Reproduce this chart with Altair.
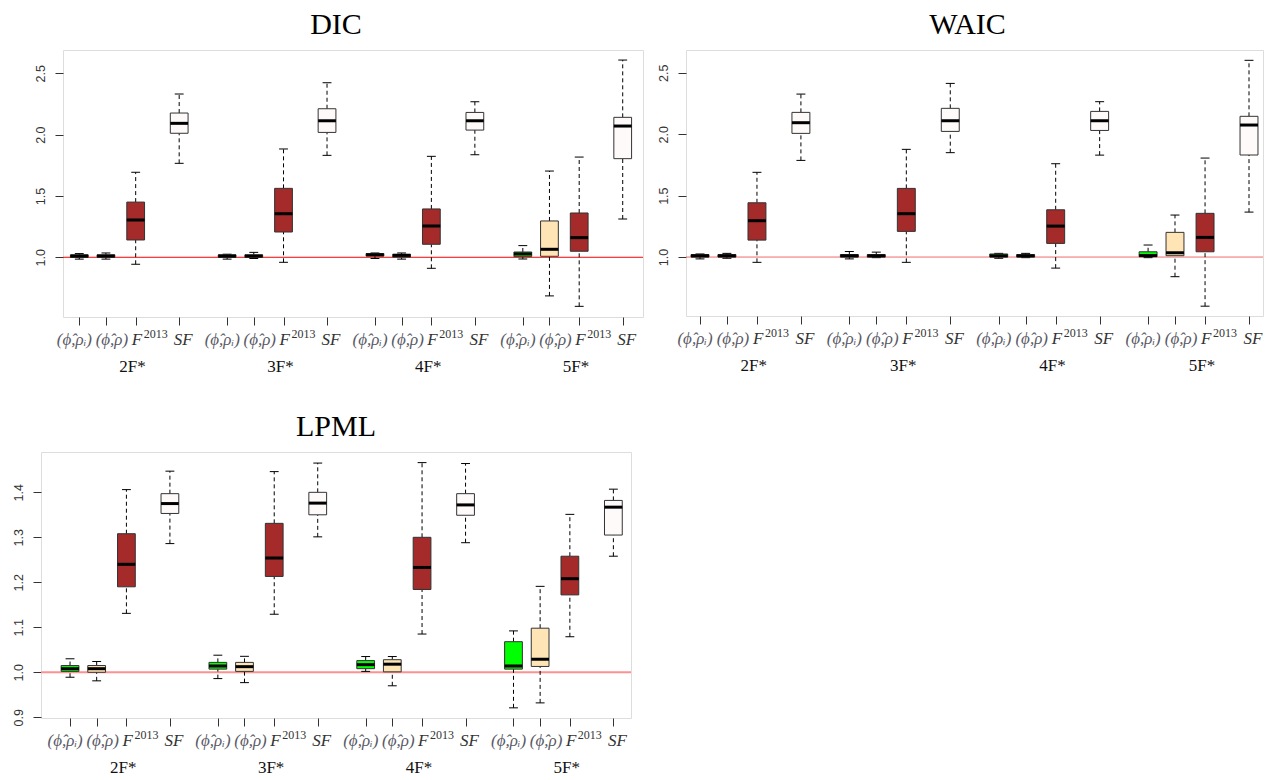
import altair as alt
import pandas as pd

groups = ["2F*", "3F*", "4F*", "5F*"]
methods = ["phi_rho_i", "phi_rho", "F2013", "SF"]
method_labels = ["(ϕ̂,ρᵢ)", "(ϕ̂,ρ)", "F", "SF"]
method_sup = ["", "", "2013", ""]
fills = ["#00FF00", "#FFE4B5", "#A52A2A", "#FFFAFA"]

# DIC box statistics (group-major order: 2F, 3F, 4F, 5F; methods as above)
dic_lower = [0.985, 0.985, 0.943, 1.766, 0.985, 0.990, 0.959, 1.831, 0.990, 0.985, 0.910, 1.836, 0.986, 0.685, 0.600, 1.312]
dic_q1 = [1.000, 1.000, 1.141, 2.011, 1.000, 1.000, 1.206, 2.018, 1.010, 1.000, 1.106, 2.037, 1.005, 1.008, 1.049, 1.804]
dic_median = [1.010, 1.010, 1.304, 2.092, 1.010, 1.010, 1.355, 2.113, 1.020, 1.015, 1.255, 2.113, 1.027, 1.065, 1.160, 2.070]
dic_q3 = [1.020, 1.020, 1.450, 2.176, 1.020, 1.020, 1.562, 2.211, 1.030, 1.025, 1.394, 2.181, 1.043, 1.296, 1.361, 2.141]
dic_upper = [1.030, 1.035, 1.693, 2.331, 1.025, 1.040, 1.883, 2.423, 1.035, 1.035, 1.823, 2.268, 1.095, 1.703, 1.817, 2.608]

# WAIC
waic_lower = [0.985, 0.990, 0.957, 1.787, 0.985, 0.995, 0.957, 1.850, 0.990, 0.995, 0.910, 1.830, 0.995, 0.840, 0.600, 1.366]
waic_q1 = [1.000, 1.000, 1.138, 2.007, 1.000, 1.000, 1.209, 2.023, 1.000, 1.000, 1.111, 2.031, 1.003, 1.011, 1.043, 1.831]
waic_median = [1.010, 1.010, 1.296, 2.094, 1.010, 1.010, 1.353, 2.110, 1.010, 1.010, 1.252, 2.110, 1.012, 1.035, 1.160, 2.075]
waic_q3 = [1.020, 1.020, 1.442, 2.178, 1.020, 1.020, 1.559, 2.211, 1.025, 1.020, 1.385, 2.186, 1.043, 1.201, 1.356, 2.146]
waic_upper = [1.025, 1.030, 1.690, 2.327, 1.045, 1.040, 1.877, 2.414, 1.030, 1.030, 1.760, 2.265, 1.098, 1.342, 1.806, 2.602]

# LPML
lpml_lower = [0.989, 0.981, 1.131, 1.286, 0.986, 0.977, 1.129, 1.301, 1.002, 0.970, 1.085, 1.288, 0.921, 0.932, 1.079, 1.258]
lpml_q1 = [1.002, 1.000, 1.190, 1.353, 1.007, 1.002, 1.213, 1.350, 1.008, 1.001, 1.184, 1.349, 1.007, 1.013, 1.172, 1.305]
lpml_median = [1.008, 1.008, 1.240, 1.375, 1.014, 1.0125, 1.254, 1.376, 1.017, 1.018, 1.233, 1.372, 1.014, 1.029, 1.208, 1.367]
lpml_q3 = [1.015, 1.015, 1.308, 1.397, 1.022, 1.022, 1.331, 1.400, 1.026, 1.028, 1.300, 1.397, 1.068, 1.098, 1.258, 1.382]
lpml_upper = [1.030, 1.024, 1.406, 1.447, 1.038, 1.0355, 1.446, 1.465, 1.035, 1.035, 1.466, 1.464, 1.092, 1.191, 1.351, 1.407]

dic_ticks = [1.0, 1.5, 2.0, 2.5]
waic_ticks = [1.0, 1.5, 2.0, 2.5]
lpml_ticks = [0.9, 1.0, 1.1, 1.2, 1.3, 1.4]

# layout constants (x units)
GROUP_STEP = 3.33
METHOD_OFFSET = [0.0, 0.6, 1.27, 2.25]
BOX_HALF = 0.2
CAP_HALF = 0.1
LABEL_SHIFT = [-0.11, 0.135, -0.09, 0.09]
SUP_SHIFT = 0.18
GROUP_LABEL_SHIFT = 1.2


def panel(title, lower, q1, med, q3, upper, ticks, ydom, xdom, width, height,
          ref_color, ref_width, title_dx):
    rows = []
    for gi in range(len(groups)):
        for mi in range(len(methods)):
            k = gi * len(methods) + mi
            pos = gi * GROUP_STEP + METHOD_OFFSET[mi]
            rows.append(dict(group=groups[gi], method=methods[mi], pos=pos,
                             bx1=pos - BOX_HALF, bx2=pos + BOX_HALF,
                             cx1=pos - CAP_HALF, cx2=pos + CAP_HALF,
                             lower=lower[k], q1=q1[k], median=med[k], q3=q3[k], upper=upper[k]))
    df = pd.DataFrame(rows)
    positions = list(df["pos"])

    xscale = alt.Scale(domain=xdom, nice=False, zero=False)
    yscale = alt.Scale(domain=ydom, nice=False, zero=False)
    xaxis = alt.Axis(values=positions, labels=False, tickSize=8, domain=False, grid=False,
                     title=None, tickColor="#333")
    yaxis = alt.Axis(values=ticks, format=".1f", labelAngle=270, labelAlign="center",
                     labelBaseline="bottom", tickSize=8, labelPadding=8, domain=False,
                     grid=False, title=None, labelFont="Liberation Sans", labelFontSize=12.5,
                     labelColor="#333", tickColor="#333")

    base = alt.Chart(df)
    whisk_lo = base.mark_rule(color="black", strokeDash=[4, 3], strokeWidth=1).encode(
        x=alt.X("pos:Q", scale=xscale, axis=xaxis),
        y=alt.Y("lower:Q", scale=yscale, axis=yaxis), y2="q1:Q")
    whisk_hi = base.mark_rule(color="black", strokeDash=[4, 3], strokeWidth=1).encode(
        x=alt.X("pos:Q", scale=xscale, axis=xaxis),
        y=alt.Y("q3:Q", scale=yscale, axis=yaxis), y2="upper:Q")
    cap_lo = base.mark_rule(color="black", strokeWidth=1).encode(
        x=alt.X("cx1:Q", scale=xscale, axis=xaxis), x2="cx2:Q",
        y=alt.Y("lower:Q", scale=yscale, axis=yaxis))
    cap_hi = base.mark_rule(color="black", strokeWidth=1).encode(
        x=alt.X("cx1:Q", scale=xscale, axis=xaxis), x2="cx2:Q",
        y=alt.Y("upper:Q", scale=yscale, axis=yaxis))
    boxes = base.mark_bar(stroke="#333", strokeWidth=1).encode(
        x=alt.X("bx1:Q", scale=xscale, axis=xaxis), x2="bx2:Q",
        y=alt.Y("q1:Q", scale=yscale, axis=yaxis), y2="q3:Q",
        color=alt.Color("method:N", scale=alt.Scale(domain=methods, range=fills), legend=None))
    medians = base.mark_rule(color="black", strokeWidth=3).encode(
        x=alt.X("bx1:Q", scale=xscale, axis=xaxis), x2="bx2:Q",
        y=alt.Y("median:Q", scale=yscale, axis=yaxis))
    ref = alt.Chart(pd.DataFrame({"v": [1.0]})).mark_rule(
        color=ref_color, strokeWidth=ref_width).encode(
        y=alt.Y("v:Q", scale=yscale, axis=yaxis))

    lab_rows = []
    for gi in range(len(groups)):
        for mi in range(len(methods)):
            pos = gi * GROUP_STEP + METHOD_OFFSET[mi]
            lab_rows.append(dict(lx=pos + LABEL_SHIFT[mi], sx=pos + SUP_SHIFT,
                                 text=method_labels[mi], sup=method_sup[mi],
                                 col="#5a5a66" if mi < 2 else "#333333",
                                 align="left" if method_sup[mi] else "center"))
    labdf = pd.DataFrame(lab_rows)
    lab_center = alt.Chart(labdf[labdf["align"] == "center"]).mark_text(
        font="Liberation Serif", fontStyle="italic", fontSize=17, baseline="alphabetic",
        align="center", dy=27.5).encode(
        x=alt.X("lx:Q", scale=xscale, axis=xaxis),
        y=alt.Y("yb:Q", scale=yscale, axis=yaxis),
        text="text:N", color=alt.Color("col:N", scale=None)).transform_calculate(yb=str(ydom[0]))
    lab_left = alt.Chart(labdf[labdf["align"] == "left"]).mark_text(
        font="Liberation Serif", fontStyle="italic", fontSize=17, baseline="alphabetic",
        align="left", dy=27.5, color="#333").encode(
        x=alt.X("lx:Q", scale=xscale, axis=xaxis),
        y=alt.Y("yb:Q", scale=yscale, axis=yaxis),
        text="text:N").transform_calculate(yb=str(ydom[0]))
    lab_sup = alt.Chart(labdf[labdf["sup"] != ""]).mark_text(
        font="Liberation Serif", fontSize=12, baseline="alphabetic",
        align="left", dy=20.5, color="#333").encode(
        x=alt.X("sx:Q", scale=xscale, axis=xaxis),
        y=alt.Y("yb:Q", scale=yscale, axis=yaxis),
        text="sup:N").transform_calculate(yb=str(ydom[0]))

    gdf = pd.DataFrame({"g": groups,
                        "gx": [gi * GROUP_STEP + GROUP_LABEL_SHIFT for gi in range(len(groups))]})
    glab = alt.Chart(gdf).mark_text(
        font="Liberation Serif", fontSize=17, baseline="alphabetic", align="center",
        dy=55, color="#111").encode(
        x=alt.X("gx:Q", scale=xscale, axis=xaxis),
        y=alt.Y("yb:Q", scale=yscale, axis=yaxis),
        text="g:N").transform_calculate(yb=str(ydom[0]))

    return alt.layer(ref, whisk_lo, whisk_hi, cap_lo, cap_hi, boxes, medians,
                     lab_center, lab_left, lab_sup, glab).properties(
        width=width, height=height,
        title=alt.TitleParams(title, font="Liberation Serif", fontSize=30, fontWeight="normal",
                              anchor="middle", dx=title_dx, color="#000", offset=10))


dic = panel("DIC", dic_lower, dic_q1, dic_median, dic_q3, dic_upper, dic_ticks,
            [0.513, 2.69], [-0.367, 12.697], 580, 267, "#FF0000", 1, -17)
waic = panel("WAIC", waic_lower, waic_q1, waic_median, waic_q3, waic_upper, waic_ticks,
             [0.52, 2.686], [-0.312, 12.552], 577, 266, "#F06A6A", 1, -7)
lpml = panel("LPML", lpml_lower, lpml_q1, lpml_median, lpml_q3, lpml_upper, lpml_ticks,
             [0.8984, 1.4896], [-0.654, 12.637], 590, 266, "#FF9090", 2, 0)


def spacer():
    return alt.Chart(pd.DataFrame({"a": [0]})).mark_point(opacity=0, size=1).properties(
        width=1, height=1, view=alt.ViewBackground(strokeOpacity=0))


top = alt.hconcat(spacer(), dic, spacer(), waic, spacing=21, bounds="flush")
chart = alt.vconcat(top, lpml, spacing=35).properties(
    padding={"left": 11, "top": 9, "right": 5, "bottom": 5}
).configure_view(stroke="#333", strokeWidth=1).configure(background="white")

chart.save("out.html", embed_options={"renderer": "svg", "actions": False})
